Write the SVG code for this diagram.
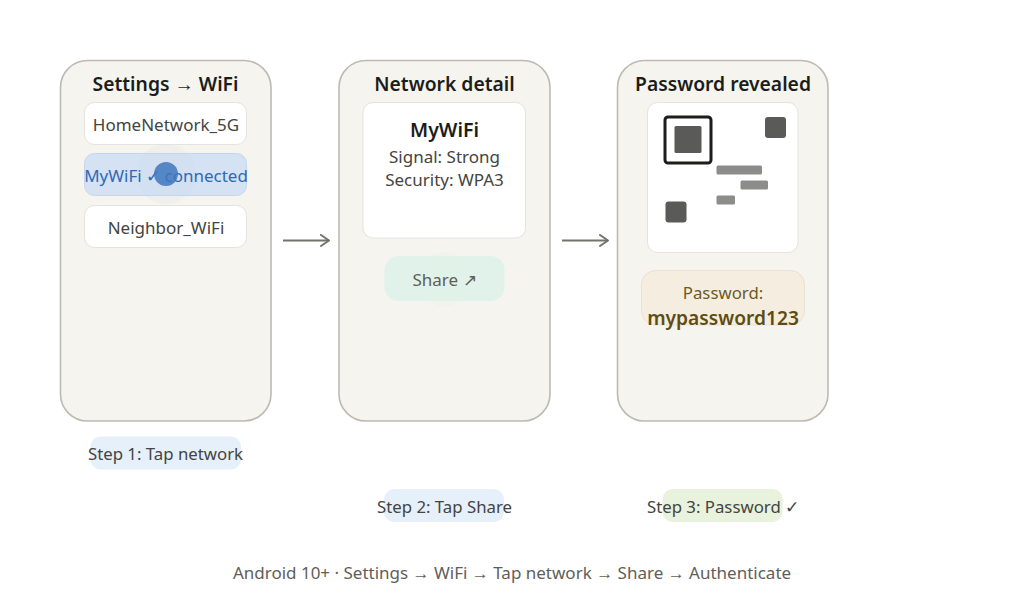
<svg xmlns="http://www.w3.org/2000/svg" width="1024" height="602" viewBox="0 0 1024 602">
<style>
text{font-family:"Noto Sans","Open Sans","Liberation Sans",sans-serif;text-anchor:middle}
.panel{fill:#f5f4ee;stroke:#bcbbb3;stroke-width:1.6}
.card{fill:#fff;stroke:#e4e3de;stroke-width:1}
.title{font-size:19.300px;font-weight:600;fill:#1c1c1a}
.item{font-size:17px;fill:#444441}
.step{font-size:16.800px;fill:#444441}
.dark{fill:#5a5a58}
.bar{fill:#8c8c8a}
.conn{fill:none;stroke:#73726c;stroke-width:2}
</style>
<defs><marker id="arr" markerUnits="userSpaceOnUse" markerWidth="14" markerHeight="14" refX="11" refY="7" orient="auto"><path d="M3 1.500L11 7L3 12.500" fill="none" stroke="#73726c" stroke-width="2" stroke-linecap="round" stroke-linejoin="round"/></marker></defs>
<rect width="1024" height="602" fill="#fff"/>
<g id="connectors">
<path class="conn" d="M283 240.500H329" marker-end="url(#arr)"/>
<path class="conn" d="M562 240.500H608" marker-end="url(#arr)"/>
</g>
<g id="panel-1">
<rect class="panel" x="60.500" y="60.500" width="210.500" height="360.500" rx="27"/>
<text class="title" x="165.500" y="91">Settings → WiFi</text>
<rect class="card" x="84.500" y="102.500" width="162" height="42" rx="10"/>
<text class="item" x="166" y="131">HomeNetwork_5G</text>
<rect x="84.500" y="153.500" width="162" height="42" rx="10" fill="#d4e2f4" stroke="#c4d6ee"/>
<circle cx="166" cy="174" r="30" fill="#c8d8e8" fill-opacity=".12"/>
<text class="item" x="166" y="182" style="fill:#2f69b5">MyWiFi ✓ connected</text>
<circle cx="166" cy="174" r="12" fill="#3f76bd" fill-opacity=".85"/>
<rect class="card" x="84.500" y="205.500" width="162" height="42" rx="10"/>
<text class="item" x="166" y="234">Neighbor_WiFi</text>
</g>
<g id="panel-2">
<rect class="panel" x="339" y="60.500" width="211" height="360.500" rx="27"/>
<text class="title" x="444.500" y="91">Network detail</text>
<rect class="card" x="363" y="102.500" width="162.500" height="135.500" rx="10"/>
<text x="444.500" y="136.500" style="font-size:19.500px;font-weight:600;fill:#1c1c1a">MyWiFi</text>
<text class="item" x="444.500" y="163">Signal: Strong</text>
<text class="item" x="444.500" y="186">Security: WPA3</text>
<rect x="384.500" y="256" width="120" height="45" rx="14" fill="#e1f2ea"/>
<circle cx="444.500" cy="279" r="27" fill="#e3f2e4" fill-opacity=".25"/>
<text class="item" x="444.500" y="286" style="fill:#5f5e5a">Share ↗</text>
</g>
<g id="panel-3">
<rect class="panel" x="617.500" y="60.500" width="210.500" height="360.500" rx="27"/>
<text class="title" x="723" y="91">Password revealed</text>
<rect class="card" x="647.500" y="102.500" width="150.500" height="150" rx="10"/>
<rect x="665" y="117" width="46" height="46" rx="3" fill="none" stroke="#1c1c1a" stroke-width="3"/>
<rect class="dark" x="674.500" y="126" width="27" height="27" rx="1.500"/>
<rect class="dark" x="765" y="117" width="21" height="21" rx="3"/>
<rect class="dark" x="665.500" y="201.500" width="21" height="21" rx="3"/>
<rect class="bar" x="716.500" y="165.500" width="45.500" height="9" rx="1.500"/>
<rect class="bar" x="740.500" y="180.500" width="27.500" height="9" rx="1.500"/>
<rect class="bar" x="716.500" y="195.500" width="18.500" height="9" rx="1.500"/>
<rect x="641.500" y="270.500" width="163" height="54.500" rx="14" fill="#f5eee0" stroke="#e8e2d2"/>
<text x="723" y="299" style="font-size:16.800px;fill:#6b5a24">Password:</text>
<text x="723" y="324.500" style="font-size:19.200px;font-weight:600;fill:#5f4c14">mypassword123</text>
</g>
<g id="step-1">
<rect x="90.500" y="436.500" width="150.500" height="33" rx="10" fill="#e6f0fb"/>
<text class="step" x="165.500" y="460">Step 1: Tap network</text>
</g>
<g id="step-2">
<rect x="384" y="489" width="120" height="33" rx="10" fill="#e6f0fb"/>
<text class="step" x="444.500" y="513">Step 2: Tap Share</text>
</g>
<g id="step-3">
<rect x="662.500" y="489" width="120" height="33" rx="10" fill="#e8f2dd"/>
<text class="step" x="723" y="513">Step 3: Password ✓</text>
</g>
<text x="512" y="579" style="font-size:17px;fill:#5f5e5a">Android 10+ · Settings → WiFi → Tap network → Share → Authenticate</text>
</svg>
